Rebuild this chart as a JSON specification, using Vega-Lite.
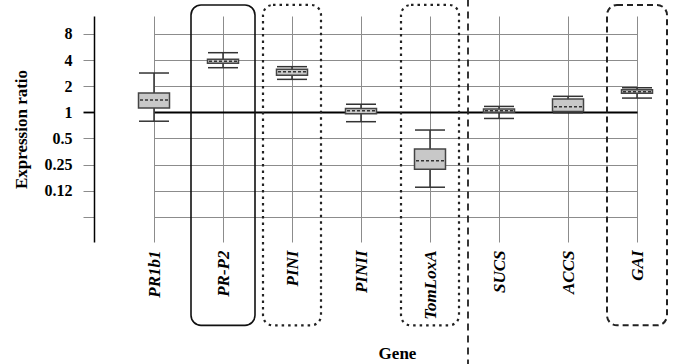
{
  "$schema": "https://vega.github.io/schema/vega-lite/v6.json",
  "width": 571,
  "height": 226,
  "autosize": {"type": "none"},
  "padding": {"left": 94, "top": 16, "right": 9, "bottom": 122},
  "background": "white",
  "config": {
    "view": {"stroke": null},
    "font": "Liberation Serif",
    "axis": {
      "labelFont": "Liberation Serif", "titleFont": "Liberation Serif",
      "labelColor": "black", "titleColor": "black",
      "labelFontWeight": "bold", "titleFontWeight": "bold"
    },
    "axisX": {
      "grid": true, "gridColor": "#8c8c8c", "gridWidth": 1,
      "domain": false, "ticks": false, "labelAngle": -90,
      "labelFontSize": 17, "labelFontStyle": "italic", "labelPadding": 8,
      "titleFontSize": 17, "titleX": 303, "titleY": 111, "titleBaseline": "middle"
    },
    "axisY": {
      "grid": true, "tickSize": 11, "domainColor": "black", "domainWidth": 1.5,
      "labelFontSize": 16, "labelPadding": 11
    }
  },
  "datasets": {
    "boxes": [
      {"gene": "PR1b1", "lower": 0.79, "q1": 1.12, "median": 1.39, "q3": 1.67, "upper": 2.84},
      {"gene": "PR-P2", "lower": 3.27, "q1": 3.67, "median": 3.87, "q3": 4.09, "upper": 4.87},
      {"gene": "PINI", "lower": 2.4, "q1": 2.67, "median": 2.94, "q3": 3.13, "upper": 3.36},
      {"gene": "PINII", "lower": 0.78, "q1": 0.96, "median": 1.04, "q3": 1.11, "upper": 1.24},
      {"gene": "TomLoxA", "lower": 0.137, "q1": 0.22, "median": 0.277, "q3": 0.377, "upper": 0.625},
      {"gene": "SUCS", "lower": 0.85, "q1": 1.0, "median": 1.04, "q3": 1.09, "upper": 1.17},
      {"gene": "ACCS", "lower": 0.99, "q1": 1.02, "median": 1.16, "q3": 1.42, "upper": 1.53},
      {"gene": "GAI", "lower": 1.46, "q1": 1.66, "median": 1.73, "q3": 1.82, "upper": 1.92}
    ],
    "frames": [
      {"gene": "PR-P2", "top": 17.3, "bottom": 0.0035, "style": "solid"},
      {"gene": "PINI", "top": 17.3, "bottom": 0.0035, "style": "dotted"},
      {"gene": "TomLoxA", "top": 17.3, "bottom": 0.0035, "style": "dotted"},
      {"gene": "GAI", "top": 17.3, "bottom": 0.0035, "style": "dashed"}
    ],
    "separator": [
      {"gene": "TomLoxA", "top": 20, "bottom": 0.0012}
    ]
  },
  "layer": [
    {
      "data": {"name": "boxes"},
      "mark": {"type": "rule", "color": "#333333", "strokeWidth": 1.5},
      "encoding": {
        "x": {
          "field": "gene", "type": "nominal", "sort": null,
          "scale": {"type": "point", "domain": ["PR1b1", "PR-P2", "PINI", "PINII", "TomLoxA", "SUCS", "ACCS", "GAI"], "range": [60, 543], "padding": 0},
          "axis": {"title": "Gene"}
        },
        "y": {
          "field": "lower", "type": "quantitative",
          "scale": {"type": "log", "base": 2, "domain": [0.032, 12.9], "nice": false},
          "axis": {
            "title": "Expression ratio",
            "titleFontSize": 17,
            "titleLimit": 1000,
            "titleAngle": -90,
            "titleAlign": "center",
            "titleAnchor": "middle",
            "titlePadding": 14,
            "values": [8, 4, 2, 1, 0.5, 0.25, 0.125, 0.0625],
            "labelExpr": "datum.value == 0.125 ? '0.12' : (datum.value < 0.1 ? '' : format(datum.value, '~g'))",
            "gridColor": {"condition": {"test": "datum.value == 1", "value": "black"}, "value": "#8c8c8c"},
            "gridWidth": {"condition": {"test": "datum.value == 1", "value": 1.8}, "value": 1},
            "tickColor": {"condition": {"test": "datum.value == 1", "value": "black"}, "value": "#8c8c8c"},
            "tickWidth": {"condition": {"test": "datum.value == 1", "value": 1.8}, "value": 1}
          }
        },
        "y2": {"field": "upper"}
      }
    },
    {
      "data": {"name": "boxes"},
      "mark": {"type": "bar", "width": 31, "fill": "#c8c8c8", "stroke": "#444444", "strokeWidth": 1.5},
      "encoding": {
        "x": {"field": "gene", "type": "nominal", "sort": null},
        "y": {"field": "q1", "type": "quantitative"},
        "y2": {"field": "q3"}
      }
    },
    {
      "data": {"name": "boxes"},
      "mark": {"type": "rule", "xOffset": -14, "x2Offset": 14, "strokeDash": [3, 2], "color": "#333333", "strokeWidth": 1.5},
      "encoding": {
        "x": {"field": "gene", "type": "nominal", "sort": null},
        "x2": {"field": "gene"},
        "y": {"field": "median", "type": "quantitative"}
      }
    },
    {
      "data": {"name": "boxes"},
      "mark": {"type": "tick", "orient": "horizontal", "size": 30, "thickness": 1.5, "color": "#333333", "opacity": 1},
      "encoding": {
        "x": {"field": "gene", "type": "nominal", "sort": null},
        "y": {"field": "upper", "type": "quantitative"}
      }
    },
    {
      "data": {"name": "boxes"},
      "mark": {"type": "tick", "orient": "horizontal", "size": 30, "thickness": 1.5, "color": "#333333", "opacity": 1},
      "encoding": {
        "x": {"field": "gene", "type": "nominal", "sort": null},
        "y": {"field": "lower", "type": "quantitative"}
      }
    },
    {
      "data": {"name": "frames"},
      "transform": [{"filter": "datum.style == 'solid'"}],
      "mark": {"type": "bar", "width": 64, "fillOpacity": 0, "stroke": "#111111", "strokeWidth": 1.6, "cornerRadius": 10},
      "encoding": {
        "x": {"field": "gene", "type": "nominal", "sort": null},
        "y": {"field": "top", "type": "quantitative"},
        "y2": {"field": "bottom"}
      }
    },
    {
      "data": {"name": "frames"},
      "transform": [{"filter": "datum.style == 'dotted'"}],
      "mark": {"type": "bar", "width": 58, "fillOpacity": 0, "stroke": "#222222", "strokeWidth": 2.2, "strokeDash": [2.5, 4], "cornerRadius": 10},
      "encoding": {
        "x": {"field": "gene", "type": "nominal", "sort": null},
        "y": {"field": "top", "type": "quantitative"},
        "y2": {"field": "bottom"}
      }
    },
    {
      "data": {"name": "frames"},
      "transform": [{"filter": "datum.style == 'dashed'"}],
      "mark": {"type": "bar", "width": 60, "fillOpacity": 0, "stroke": "#222222", "strokeWidth": 2, "strokeDash": [6, 4], "cornerRadius": 10},
      "encoding": {
        "x": {"field": "gene", "type": "nominal", "sort": null},
        "y": {"field": "top", "type": "quantitative"},
        "y2": {"field": "bottom"}
      }
    },
    {
      "data": {"name": "separator"},
      "mark": {"type": "rule", "xOffset": 38, "strokeDash": [7, 5], "strokeWidth": 1.8, "color": "#222222"},
      "encoding": {
        "x": {"field": "gene", "type": "nominal", "sort": null},
        "y": {"field": "top", "type": "quantitative"},
        "y2": {"field": "bottom"}
      }
    }
  ]
}
